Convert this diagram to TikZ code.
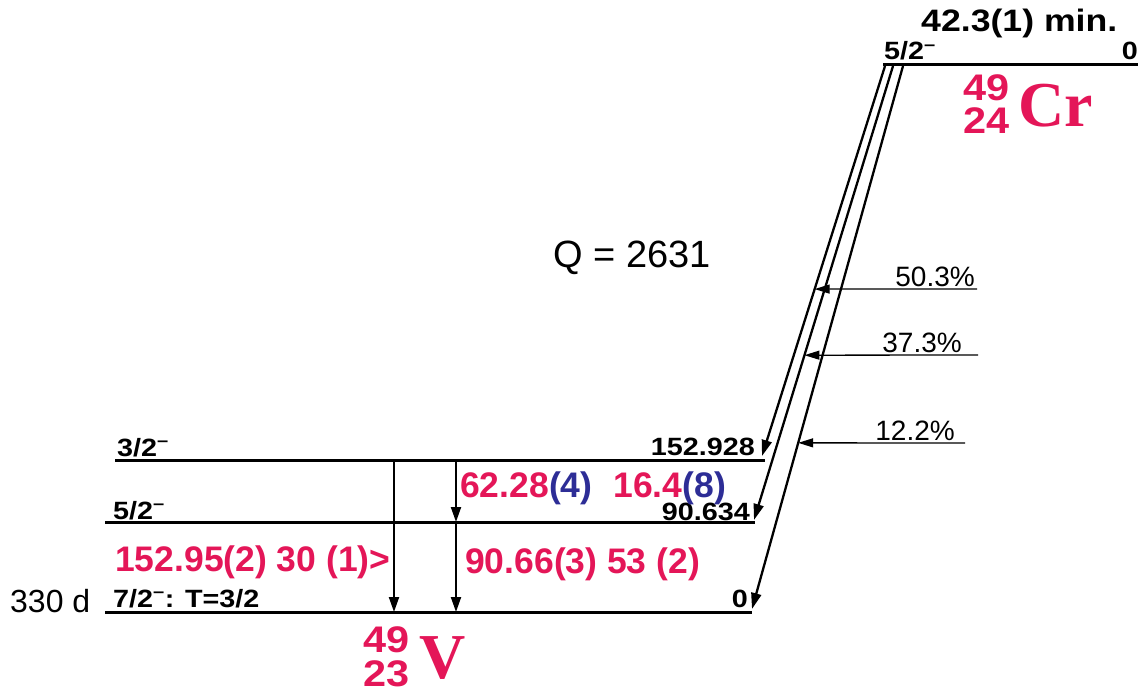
\documentclass[tikz,border=0pt]{standalone}
\usepackage{fontspec}
\setmainfont{Liberation Sans}
\newfontfamily\wideb[FakeStretch=1.15]{Liberation Sans Bold}
\newfontfamily\redb{Liberation Sans Bold}
\newfontfamily\isob[FakeStretch=1.12]{Liberation Sans Bold}
\newfontfamily\elemfont{Liberation Serif Bold}
\usepackage{xcolor}
\usetikzlibrary{arrows.meta,calc}
\definecolor{isored}{RGB}{228,22,88}
\definecolor{errblue}{RGB}{45,45,150}
\newcommand{\fsz}[1]{\fontsize{#1}{#1}\selectfont}
\newcommand{\mn}{\textsuperscript{–}}

\begin{document}
\begin{tikzpicture}[
    x=1pt, y=-1pt,
    level/.style={line width=3pt},
    beta/.style={-{Triangle[length=16pt,width=10pt]}, line width=2.3pt},
    gam/.style={-{Triangle[length=15pt,width=10pt]}, line width=2pt},
    feed/.style={-{Triangle[length=15pt,width=9pt]}, line width=1.3pt},
    lab/.style={inner sep=0pt, font=\wideb\fsz{25}},
    gtext/.style={inner sep=0pt, text=isored, font=\redb\fsz{35.5}},
    pct/.style={inner sep=0pt, font=\fsz{28}},
    iso/.style={inner sep=0pt, text=isored, font=\isob\fsz{37}, text height=26pt, text depth=0pt},
    elem/.style={inner sep=0pt, text=isored, font=\elemfont\fsz{64}, text height=43pt, text depth=0pt}
]
    \useasboundingbox (0,0) rectangle (1142,692);

    % parent 49Cr
    \coordinate (crL) at (883,65);
    \coordinate (crR) at (1138,65);
    \draw[level] (crL) -- (crR);
    \node[lab, anchor=base west] (crspin) at (884,60) {5/2\mn};
    \node[lab, anchor=base east] (crE) at (1138,60) {0};
    \node[inner sep=0pt, anchor=base west, font=\wideb\fsz{31}, text depth=0pt] (half) at (921,32) {42.3(1) min.};
    \node[iso, anchor=base west] (crA) at (963,101) {49};
    \node[iso, anchor=base west] (crZ) at (963,134) {24};
    \node[elem, anchor=base west] (cr) at (1018,127) {Cr};

    \node[inner sep=0pt, anchor=base west, font=\fsz{38}] (qval) at (553,268) {Q = 2631};

    % daughter 49V levels
    \coordinate (l3L) at (115,460);  \coordinate (l3R) at (765,460);
    \coordinate (l5L) at (105,522);  \coordinate (l5R) at (755,522);
    \coordinate (l0L) at (105,612);  \coordinate (l0R) at (752,612);
    \draw[level] (l3L) -- (l3R);
    \draw[level] (l5L) -- (l5R);
    \draw[level] (l0L) -- (l0R);

    \node[lab, anchor=base west] (s3) at (117,456) {3/2\mn};
    \node[lab, anchor=base east] (e3) at (755,455) {152.928};
    \node[lab, anchor=base west] (s5) at (113,519) {5/2\mn};
    \node[lab, anchor=base east] (e5) at (750,520) {90.634};
    \node[lab, anchor=base west] (s0) at (113,607) {7/2\mn: T=3/2};
    \node[lab, anchor=base east] (e0) at (748,607) {0};
    \node[inner sep=0pt, anchor=base west, font=\fsz{32}] (life) at (10,612) {330 d};

    \node[iso, anchor=base west] (vA) at (363,652) {49};
    \node[iso, anchor=base west] (vZ) at (363,686) {23};
    \node[elem, anchor=base west] (v) at (419,678) {V};

    % gamma transitions
    \coordinate (g1s) at (394,460); \coordinate (g1e) at (394,612);
    \coordinate (g2s) at (456,460); \coordinate (g2e) at (456,522);
    \coordinate (g3e) at (456,612);
    \draw[gam] (g1s) -- (g1e);
    \draw[gam] (g2s) -- (g2e);
    \draw[gam] (g2e) -- (g3e);

    \node[gtext, anchor=base west, text depth=2pt] (t62) at (460,497) {62.28\textcolor{errblue}{(4)}\hspace{21pt}16.4\textcolor{errblue}{(8)}};
    \node[gtext, anchor=base west] (t152) at (115,571) {152.95(2) 30 (1)>};
    \node[gtext, anchor=base west] (t90) at (465,573) {90.66(3) 53 (2)};

    % beta branches
    \coordinate (b1s) at (885,66); \coordinate (b1e) at (762,456);
    \coordinate (b2s) at (893,66); \coordinate (b2e) at (754,520);
    \coordinate (b3s) at (903,66); \coordinate (b3e) at (752,609);
    \draw[beta] (b1s) -- (b1e);
    \draw[beta] (b2s) -- (b2e);
    \draw[beta] (b3s) -- (b3e);

    % feeding intensities
    \coordinate (f1) at ($(b1s)!0.572!(b1e)$);
    \coordinate (f2) at ($(b2s)!0.637!(b2e)$);
    \coordinate (f3) at ($(b3s)!0.694!(b3e)$);
    \coordinate (p1) at (977,289);
    \coordinate (p2) at (978,355);
    \coordinate (p3) at (965,443);
    \draw[feed] (p1) -- (f1);
    \draw[feed] (p2) -- (f2);
    \draw[feed] (p3) -- (f3);
    \node[pct, anchor=base east] (i1) at (975,287) {50.3\%};
    \node[pct, anchor=base east] (i2) at (962,352) {37.3\%};
    \node[pct, anchor=base east] (i3) at (955,440) {12.2\%};
\end{tikzpicture}
\end{document}
